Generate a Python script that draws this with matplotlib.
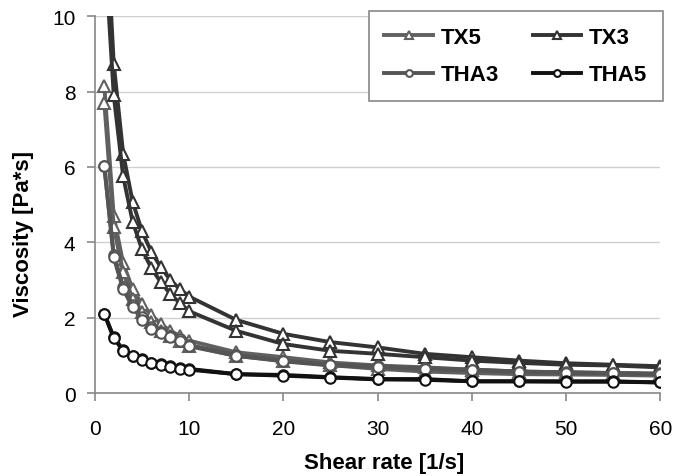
import matplotlib
matplotlib.use('Agg')
import matplotlib.pyplot as plt

plt.rcParams['font.family'] = ['Liberation Sans', 'DejaVu Sans']

# shear rates [1/s]
shear = [1, 2, 3, 4, 5, 6, 7, 8, 9, 10, 15, 20, 25, 30, 35, 40, 45, 50, 55, 60]

# viscosity [Pa*s], two ramps per sample
tx5_a = [8.15, 4.69, 3.44, 2.76, 2.36, 2.07, 1.83, 1.65, 1.52, 1.39,
         1.08, 0.95, 0.81, 0.73, 0.68, 0.62, 0.57, 0.55, 0.53, 0.50]
tx5_b = [7.70, 4.40, 3.20, 2.50, 2.15, 1.88, 1.65, 1.51, 1.39, 1.26,
         0.98, 0.86, 0.74, 0.64, 0.57, 0.53, 0.50, 0.49, 0.48, 0.46]
tx3_a = [13.5, 8.74, 6.35, 5.08, 4.29, 3.74, 3.34, 3.00, 2.76, 2.56,
         1.94, 1.57, 1.35, 1.21, 1.04, 0.95, 0.86, 0.79, 0.75, 0.71]
tx3_b = [12.0, 7.90, 5.75, 4.55, 3.81, 3.31, 2.94, 2.63, 2.39, 2.17,
         1.65, 1.30, 1.12, 1.04, 0.95, 0.86, 0.80, 0.75, 0.73, 0.68]
tha3_a = [6.02, 3.67, 2.81, 2.34, 2.01, 1.74, 1.63, 1.52, 1.43, 1.27,
          1.01, 0.86, 0.75, 0.71, 0.66, 0.62, 0.57, 0.55, 0.53, 0.52]
tha3_b = [6.02, 3.60, 2.75, 2.28, 1.95, 1.70, 1.58, 1.48, 1.38, 1.24,
          0.99, 0.84, 0.73, 0.69, 0.64, 0.60, 0.56, 0.54, 0.52, 0.50]
tha5_a = [2.10, 1.48, 1.14, 0.99, 0.90, 0.80, 0.76, 0.71, 0.66, 0.64,
          0.50, 0.48, 0.42, 0.37, 0.37, 0.31, 0.31, 0.31, 0.31, 0.28]
tha5_b = [2.10, 1.46, 1.12, 0.97, 0.88, 0.79, 0.74, 0.70, 0.65, 0.62,
          0.50, 0.46, 0.41, 0.36, 0.35, 0.31, 0.31, 0.30, 0.30, 0.28]

series = [
    ('TX5', tx5_a, tx5_b, '#606060', '^'),
    ('TX3', tx3_a, tx3_b, '#333333', '^'),
    ('THA3', tha3_a, tha3_b, '#555555', 'o'),
    ('THA5', tha5_a, tha5_b, '#111111', 'o'),
]

fig = plt.figure(figsize=(6.73, 4.77), dpi=100)
ax = fig.add_axes([0.141, 0.174, 0.840, 0.790])

handles = {}
for name, ya, yb, col, mk in series:
    for ii, y in enumerate((ya, yb)):
        ln, = ax.plot(shear, y, color=col, lw=2.8, marker=mk,
                      ms=8.5 if mk == '^' else 7.5,
                      mfc='white', mec=col, mew=1.5, zorder=3)
        if ii == 0:
            handles[name] = ln

ax.set_xlim(0, 60)
ax.set_ylim(0, 10)
ax.set_xticks(range(0, 61, 10))
ax.set_yticks(range(0, 11, 2))
ax.tick_params(labelsize=15, colors='#888888', length=6, width=1.2, labelcolor='black')
ax.tick_params(axis='x', pad=13)
ax.tick_params(axis='y', pad=8)
ax.grid(axis='y', color='#d0d0d0', lw=1)
ax.set_axisbelow(True)
for side in ('top', 'right'):
    ax.spines[side].set_visible(False)
for side in ('left', 'bottom'):
    ax.spines[side].set_color('#888888')
    ax.spines[side].set_linewidth(1.2)

ax.set_xlabel('Shear rate [1/s]', fontsize=16, fontweight='bold')
ax.set_ylabel('Viscosity [Pa*s]', fontsize=16, fontweight='bold')
ax.xaxis.set_label_coords(0.512, -0.157)
ax.yaxis.set_label_coords(-0.108, 0.424)

# row-major order in the legend: TX5 TX3 / THA3 THA5
order = ['TX5', 'THA3', 'TX3', 'THA5']
leg = ax.legend([handles[k] for k in order], order, loc='upper right', ncol=2,
                fancybox=False, framealpha=1,
                prop={'weight': 'bold', 'size': 16}, handlelength=2.2,
                columnspacing=1.5, borderpad=0.7, handletextpad=0.35,
                labelspacing=0.75, markerscale=0.65, borderaxespad=0,
                bbox_to_anchor=(1.005, 1.013))
leg.get_frame().set_edgecolor('#888888')
leg.get_frame().set_linewidth(1.2)

fig.savefig('out.png', dpi=100)
